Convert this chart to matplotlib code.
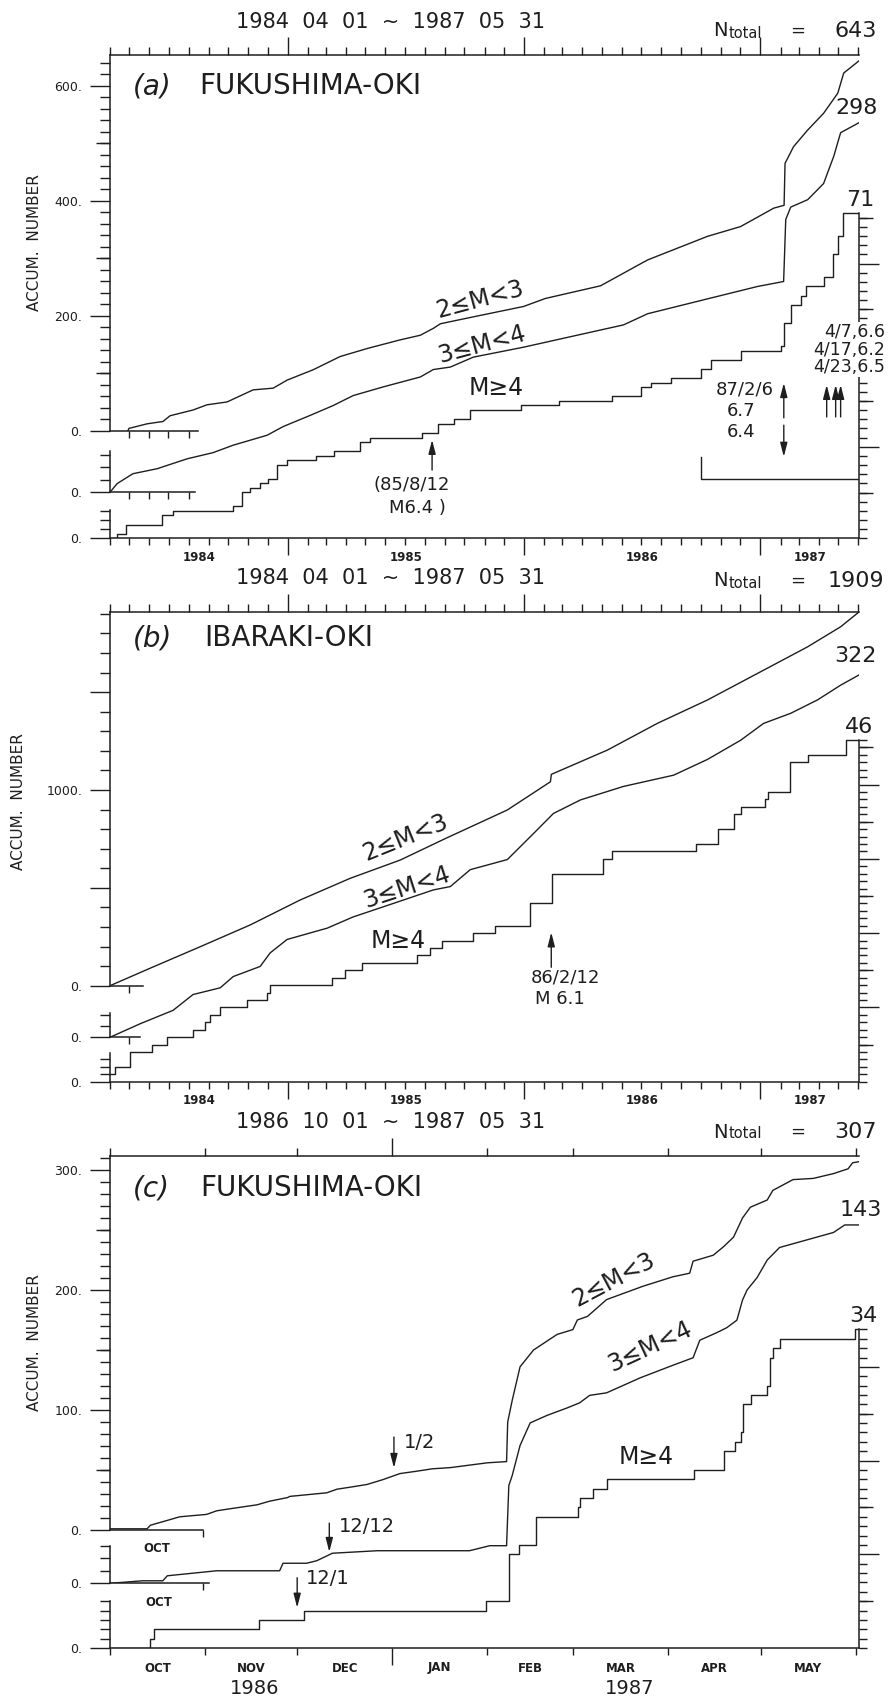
import numpy as np
import matplotlib
matplotlib.use("Agg")
import matplotlib.pyplot as plt
from matplotlib.ticker import FixedLocator, FuncFormatter

plt.rcParams['font.family'] = ['DejaVu Sans']
W, H = 891, 1698
INK = '#1e1e1e'

# ---------------- data (x in decimal years, y = accumulated number) ----------------
# (a) FUKUSHIMA-OKI 1984-04-01 ~ 1987-05-31
A_ALL_X = [1984.326, 1984.33, 1984.407, 1984.474, 1984.504, 1984.601, 1984.660, 1984.745, 1984.855, 1984.940,
           1984.999, 1985.109, 1985.223, 1985.338, 1985.477, 1985.562, 1985.617, 1985.647, 1985.786, 1985.998,
           1986.091, 1986.324, 1986.523, 1986.776, 1986.916, 1987.056, 1987.100, 1987.104, 1987.140, 1987.200,
           1987.267, 1987.327, 1987.352, 1987.416]
A_ALL_Y = [0, 4, 12, 16, 26, 36, 45, 50, 71, 74, 88, 106, 129, 143, 158, 166, 178, 186, 198, 216,
           230, 252, 297, 338, 355, 387, 392, 465, 494, 523, 552, 587, 622, 643]
A_M3_X = [1984.25, 1984.280, 1984.347, 1984.449, 1984.576, 1984.686, 1984.771, 1984.914, 1984.982, 1985.096,
          1985.194, 1985.278, 1985.405, 1985.562, 1985.617, 1985.689, 1985.786, 1985.998, 1986.209, 1986.421,
          1986.523, 1986.776, 1986.988, 1987.098, 1987.107, 1987.128, 1987.200, 1987.267, 1987.310, 1987.339,
          1987.416]
A_M3_Y = [0, 7, 15, 19, 27, 32, 38, 46, 53, 62, 70, 78, 85, 93, 99, 101, 109, 117, 126, 135,
          144, 156, 166, 170, 220, 230, 236, 249, 271, 290, 298]
A_M4_X = [1984.25, 1984.280, 1984.318, 1984.470, 1984.517, 1984.771, 1984.809, 1984.842, 1984.885, 1984.919,
          1984.957, 1984.999, 1985.118, 1985.194, 1985.308, 1985.350, 1985.570, 1985.634, 1985.702, 1985.773,
          1985.985, 1986.146, 1986.374, 1986.493, 1986.535, 1986.620, 1986.747, 1986.789, 1986.916, 1987.085,
          1987.098, 1987.128, 1987.170, 1987.191, 1987.267, 1987.305, 1987.327, 1987.348, 1987.416]
A_M4_Y = [0, 1, 3, 5, 6, 7, 10, 11, 12, 13, 16, 17, 18, 19, 21, 22, 23, 25, 26, 28,
          29, 30, 31, 33, 34, 35, 37, 39, 41, 42, 47, 51, 53, 55, 57, 62, 66, 71, 71]
A_NTOTAL, A_N3, A_N4 = 643, 298, 71

# (b) IBARAKI-OKI 1984-04-01 ~ 1987-05-31
B_ALL_X = [1984.25, 1984.419, 1984.631, 1984.842, 1985.054, 1985.266, 1985.477, 1985.668, 1985.930, 1986.112,
           1986.116, 1986.353, 1986.565, 1986.776, 1986.988, 1987.200, 1987.339, 1987.416]
B_ALL_Y = [0, 89, 199, 310, 438, 549, 642, 752, 898, 1042, 1080, 1204, 1341, 1460, 1596, 1732, 1834, 1909]
B_M3_X = [1984.25, 1984.377, 1984.517, 1984.601, 1984.716, 1984.771, 1984.885, 1984.927, 1984.999, 1985.168,
          1985.278, 1985.448, 1985.617, 1985.689, 1985.773, 1985.930, 1986.040, 1986.125, 1986.239, 1986.421,
          1986.633, 1986.776, 1986.916, 1987.013, 1987.128, 1987.242, 1987.339, 1987.416]
B_M3_Y = [0, 12, 24, 38, 44, 54, 63, 75, 87, 97, 107, 119, 131, 134, 149, 158, 181, 199, 211, 223,
          233, 247, 264, 279, 288, 300, 313, 322]
B_M4_X = [1984.25, 1984.271, 1984.335, 1984.428, 1984.491, 1984.601, 1984.652, 1984.673, 1984.716, 1984.830,
          1984.914, 1984.927, 1985.189, 1985.244, 1985.316, 1985.549, 1985.604, 1985.655, 1985.782, 1985.879,
          1986.027, 1986.120, 1986.336, 1986.374, 1986.726, 1986.819, 1986.886, 1986.916, 1987.018, 1987.030,
          1987.123, 1987.200, 1987.361, 1987.416]
B_M4_Y = [1, 2, 4, 5, 6, 7, 8, 9, 10, 11, 12, 13, 14, 15, 16, 17, 18, 19, 20, 21,
          24, 28, 30, 31, 32, 34, 36, 37, 38, 39, 43, 44, 46, 46]
B_NTOTAL, B_N3, B_N4 = 1909, 322, 46

# (c) FUKUSHIMA-OKI 1986-10-01 ~ 1987-05-31
C_ALL_X = [1986.75, 1986.783, 1986.786, 1986.801, 1986.812, 1986.836, 1986.845, 1986.859, 1986.881, 1986.892,
           1986.908, 1986.910, 1986.943, 1986.952, 1986.966, 1986.979, 1986.993, 1987.008, 1987.023, 1987.037,
           1987.053, 1987.086, 1987.103, 1987.104, 1987.108, 1987.115, 1987.127, 1987.148, 1987.162, 1987.166,
           1987.175, 1987.192, 1987.224, 1987.251, 1987.266, 1987.269, 1987.287, 1987.296, 1987.305, 1987.313,
           1987.320, 1987.335, 1987.340, 1987.358, 1987.376, 1987.394, 1987.407, 1987.411, 1987.417]
C_ALL_Y = [1, 1, 4, 8, 11, 13, 16, 18, 21, 24, 27, 28, 31, 34, 36, 38, 42, 47, 49, 51,
           52, 56, 57, 90, 108, 136, 150, 163, 167, 175, 178, 192, 203, 211, 214, 224, 229, 236, 244, 260,
           269, 275, 283, 292, 293, 297, 301, 306, 307]
C_M3_X = [1986.75, 1986.779, 1986.797, 1986.801, 1986.845, 1986.901, 1986.904, 1986.925, 1986.934, 1986.948,
          1986.988, 1987.070, 1987.088, 1987.103, 1987.105, 1987.108, 1987.115, 1987.124, 1987.139, 1987.157,
          1987.168, 1987.177, 1987.192, 1987.222, 1987.251, 1987.269, 1987.275, 1987.290, 1987.299, 1987.308,
          1987.313, 1987.317, 1987.326, 1987.335, 1987.346, 1987.370, 1987.394, 1987.404, 1987.417]
C_M3_Y = [0, 1, 1, 3, 5, 5, 8, 8, 9, 12, 13, 13, 15, 15, 39, 43, 55, 64, 67, 70,
          72, 75, 76, 82, 87, 90, 97, 100, 102, 105, 113, 117, 122, 129, 134, 137, 140, 143, 143]
C_M4_X = [1986.75, 1986.784, 1986.787, 1986.881, 1986.921, 1987.084, 1987.104, 1987.113, 1987.128, 1987.166,
          1987.168, 1987.179, 1987.192, 1987.269, 1987.296, 1987.306, 1987.311, 1987.313, 1987.320, 1987.335,
          1987.337, 1987.340, 1987.346, 1987.413, 1987.417]
C_M4_Y = [0, 1, 2, 3, 4, 5, 10, 11, 14, 15, 16, 17, 18, 19, 21, 22, 23, 26, 27, 28,
          31, 32, 33, 34, 34]
C_NTOTAL, C_N3, C_N4 = 307, 143, 34

YEAR_LABELS = ['1984', '1985', '1986', '1987']
MONTH_LABELS = ['OCT', 'NOV', 'DEC', 'JAN', 'FEB', 'MAR', 'APR', 'MAY']
BRACKET_DATES = ['1986-10-01', '1987-05-31']
BRACKET_Y = [17.7, 12.9]


def dy(s):
    d = np.datetime64(s, 'D')
    y = int(s[:4])
    a = np.datetime64(f"{y:04d}-01-01", 'D')
    b = np.datetime64(f"{y + 1:04d}-01-01", 'D')
    return y + (d - a) / (b - a)


def months(y0, m0, y1, m1):
    out, y, m = [], y0, m0
    while (y, m) <= (y1, m1):
        out.append(dy(f"{y:04d}-{m:02d}-01"))
        m += 1
        if m > 12:
            m, y = 1, y + 1
    return out


fig = plt.figure(figsize=(W / 100, H / 100), dpi=100)
fig.patch.set_facecolor('white')
LINE = dict(color=INK, lw=1.0)


def box(l, t, r, b):
    return [l / W, 1 - b / H, (r - l) / W, (b - t) / H]


def T(x, y, s, size, ha='center', va='center', **kw):
    return fig.text(x / W, 1 - y / H, s, fontsize=size, ha=ha, va=va, color=INK, **kw)


def bare(ax):
    ax.patch.set_visible(False)
    for sp in ax.spines.values():
        sp.set_visible(False)
        sp.set_color(INK)
        sp.set_linewidth(1.1)
    ax.tick_params(which='both', colors=INK, width=1.0, direction='out')


def curve_axes(L, R, TOP, base, scale, xlim):
    ax = fig.add_axes(box(L, TOP, R, base))
    bare(ax)
    ax.set_xlim(*xlim)
    ax.set_ylim(0, (base - TOP) / scale)
    ax.set_xticks([])
    ax.tick_params(top=False, right=False, labelbottom=False)
    return ax


def left_scale(ax, top, major, minor, labeled=(0,), medium=()):
    sp = ax.spines['left']
    sp.set_visible(True)
    sp.set_bounds(0, top)
    ax.yaxis.set_major_locator(FixedLocator(list(major)))
    ax.yaxis.set_minor_locator(FixedLocator(list(minor)))
    lab = set(labeled)
    ax.yaxis.set_major_formatter(FuncFormatter(lambda v, p: f"{v:.0f}." if round(v) in lab else ""))
    ax.tick_params(axis='y', which='major', length=14.5, pad=5.5, labelsize=9)
    ax.tick_params(axis='y', which='minor', length=7)
    if medium:
        sec = ax.secondary_yaxis('left')
        sec.spines['left'].set_visible(False)
        sec.set_yticks(list(medium))
        sec.tick_params(axis='y', length=10, width=1.0, colors=INK, direction='out', labelleft=False)


def short_x(ax, x_end, ticks):
    sp = ax.spines['bottom']
    sp.set_visible(True)
    sp.set_bounds(ax.get_xlim()[0], x_end)
    ax.set_xticks(ticks)
    ax.tick_params(axis='x', which='major', length=5, labelbottom=False)


def full_x(ax, majors, minors):
    ax.spines['bottom'].set_visible(True)
    ax.set_xticks(majors)
    ax.set_xticks(minors, minor=True)
    ax.tick_params(axis='x', which='major', length=12.5, labelbottom=False)
    ax.tick_params(axis='x', which='minor', length=5, labelbottom=False)


def right_scale(ax, top, major, minor, medium):
    axr = ax.twinx()
    bare(axr)
    axr.set_ylim(ax.get_ylim())
    sp = axr.spines['right']
    sp.set_visible(True)
    sp.set_bounds(0, top)
    axr.yaxis.set_major_locator(FixedLocator(list(major)))
    axr.yaxis.set_minor_locator(FixedLocator(list(minor)))
    axr.tick_params(axis='y', which='major', length=14.5, labelright=False, left=False, right=True)
    axr.tick_params(axis='y', which='minor', length=5.5, left=False, right=True)
    sec = axr.secondary_yaxis('right')
    sec.spines['right'].set_visible(False)
    sec.set_yticks(list(medium))
    sec.tick_params(axis='y', length=10, width=1.0, colors=INK, direction='out', labelright=False)


def top_frame(L, R, TOP, BOT, xlim, majors, minors):
    ax = fig.add_axes(box(L, TOP, R, BOT))
    bare(ax)
    ax.set_xlim(*xlim)
    ax.set_yticks([])
    ax.spines['top'].set_visible(True)
    ax.xaxis.tick_top()
    ax.set_xticks(majors)
    ax.set_xticks(minors, minor=True)
    ax.tick_params(axis='x', which='major', length=13, labeltop=False, bottom=False)
    ax.tick_params(axis='x', which='minor', length=6, labeltop=False, bottom=False)
    return ax


def arrow(ax, x, y_from, y_to):
    ax.annotate('', xy=(x, y_to), xytext=(x, y_from),
                arrowprops=dict(arrowstyle='-|>,head_length=0.7,head_width=0.18', color=INK, lw=1.0,
                                shrinkA=0, shrinkB=0, mutation_scale=12))


def under_labels(ax, centers, labels, off_px, size, **kw):
    for c, s in zip(centers, labels):
        ax.annotate(s, xy=(c, 0), xycoords=('data', 'axes fraction'), xytext=(0, -off_px * 0.72),
                    textcoords='offset points', ha='center', va='center', fontsize=size, color=INK, **kw)


def ntotal(y, n):
    T(713, y, 'N', 14, ha='left')
    T(729, y + 2, 'total', 10.5, ha='left')
    T(798, y, '=', 13)
    T(856, y, str(n), 16)


L, R = 110, 859
XAB = (1984.25, 1987.4167)
XC = (1986.75, 1987.4167)
MAB = months(1984, 4, 1987, 6)
MC = months(1986, 10, 1987, 6)
YRS = [1985.0, 1986.0, 1987.0]
YR_CENTERS = [(XAB[0] + 1985) / 2, 1985.5, 1986.5, (1987 + XAB[1]) / 2]

# ================= panel (a) =================
TOP, B1, B2, B3 = 55, 430.7, 492.3, 538.3
top_frame(L, R, TOP, B3, XAB, YRS, MAB)
a1 = curve_axes(L, R, TOP, B1, 0.575, XAB)
a1.plot(A_ALL_X, A_ALL_Y, **LINE)
left_scale(a1, a1.get_ylim()[1], [0, 200, 400, 600], range(0, 641, 20), labeled=[0, 200, 400, 600],
           medium=[100, 300, 500])
short_x(a1, 1984.622, MAB[1:5])
a2 = curve_axes(L, R, TOP, B2, 1.24, XAB)
a2.plot(A_M3_X, A_M3_Y, **LINE)
left_scale(a2, 33, [0], [10, 20, 30])
short_x(a2, 1984.61, MAB[1:5])
a3 = curve_axes(L, R, TOP, B3, 4.58, XAB)
a3.plot(A_M4_X, A_M4_Y, drawstyle='steps-post', **LINE)
left_scale(a3, 6.2, [0], [2, 4, 6])
full_x(a3, YRS, MAB)
right_scale(a3, A_N4, [20, 40, 60], np.arange(0, 72, 2), [10, 30, 50, 70])
under_labels(a3, YR_CENTERS, YEAR_LABELS, 19, 8.5, fontweight='bold')
bx = [dy(d) for d in BRACKET_DATES]
a3.plot([bx[0], bx[0], bx[1]], [BRACKET_Y[0], BRACKET_Y[1], BRACKET_Y[1]], **LINE)
arrow(a3, dy('1985-08-12'), 14.9, 21.5)
arrow(a3, dy('1987-02-06'), 26.3, 33.9)
arrow(a3, dy('1987-02-06'), 24.7, 17.8)
for xa in [1987.280, 1987.318, 1987.339]:
    arrow(a3, xa, 26.5, 33.5)

T(391, 22, '1984  04  01  ~  1987  05  31', 15)
ntotal(31, A_NTOTAL)
T(133, 86, '(a)', 20, ha='left', style='italic')
T(199, 86, 'FUKUSHIMA-OKI', 20, ha='left')
T(35, 243, 'ACCUM.  NUMBER', 11, rotation=90)
T(480, 300, '2≤M<3', 17, rotation=15)
T(482, 345, '3≤M<4', 17, rotation=15)
T(496, 388, 'M≥4', 17)
T(857, 108, str(A_N3), 16)
T(860, 200, str(A_N4), 16)
T(412, 485, '(85/8/12', 13)
T(417, 508, 'M6.4 )', 13)
T(745, 390, '87/2/6', 13)
T(741, 411, '6.7', 13)
T(741, 432, '6.4', 13)
WB = dict(facecolor='white', edgecolor='none', pad=0.5)
T(885, 332, '4/7,6.6', 12.5, ha='right', bbox=WB, zorder=5)
T(885, 350, '4/17,6.2', 12.5, ha='right', bbox=WB, zorder=5)
T(885, 367, '4/23,6.5', 12.5, ha='right', bbox=WB, zorder=5)

# ================= panel (b) =================
TOP, B1, B2, B3 = 611.7, 985.7, 1037.3, 1081.7
top_frame(L, R, TOP, B3, XAB, YRS, MAB)
b1 = curve_axes(L, R, TOP, B1, 0.1957, XAB)
b1.plot(B_ALL_X, B_ALL_Y, **LINE)
left_scale(b1, b1.get_ylim()[1], [0, 500, 1000, 1500], range(0, 1901, 100), labeled=[0, 1000])
short_x(b1, 1984.39, MAB[1:2])
b2 = curve_axes(L, R, TOP, B2, 1.125, XAB)
b2.plot(B_M3_X, B_M3_Y, **LINE)
left_scale(b2, 21.5, [0], [10, 20])
short_x(b2, 1984.377, MAB[1:2])
b3 = curve_axes(L, R, TOP, B3, 7.43, XAB)
b3.plot(B_M4_X, B_M4_Y, drawstyle='steps-post', **LINE)
left_scale(b3, 3.8, [0], [1, 2, 3])
full_x(b3, YRS, MAB)
right_scale(b3, B_N4, [10, 20, 30, 40], range(0, 47), [5, 15, 25, 35, 45])
under_labels(b3, YR_CENTERS, YEAR_LABELS, 19, 8.5, fontweight='bold')
arrow(b3, dy('1986-02-12'), 15.4, 20.1)

T(391, 578, '1984  04  01  ~  1987  05  31', 15)
ntotal(581, B_NTOTAL)
T(133, 638, '(b)', 20, ha='left', style='italic')
T(204, 638, 'IBARAKI-OKI', 20, ha='left')
T(19, 802, 'ACCUM.  NUMBER', 11, rotation=90)
T(405, 838, '2≤M<3', 17, rotation=22)
T(407, 887, '3≤M<4', 17, rotation=18)
T(398, 941, 'M≥4', 17)
T(855, 656, str(B_N3), 16)
T(859, 727, str(B_N4), 16)
T(565, 977, '86/2/12', 13)
T(560, 999, 'M 6.1', 13)

# ================= panel (c) =================
TOP, B1, B2, B3 = 1156, 1530, 1583.3, 1648
top_frame(L, R, TOP, B3, XC, [1987.0], MC)
c1 = curve_axes(L, R, TOP, B1, 1.2, XC)
c1.plot(C_ALL_X, C_ALL_Y, **LINE)
left_scale(c1, c1.get_ylim()[1], [0, 100, 200, 300], range(0, 311, 10), labeled=[0, 100, 200, 300],
           medium=[50, 150, 250])
short_x(c1, MC[1], MC[1:2])
c2 = curve_axes(L, R, TOP, B2, 2.506, XC)
c2.plot(C_M3_X, C_M3_Y, **LINE)
left_scale(c2, 15, [0], [5, 10, 15])
short_x(c2, MC[1] + 0.005, MC[1:2])
c3 = curve_axes(L, R, TOP, B3, 9.37, XC)
c3.plot(C_M4_X, C_M4_Y, drawstyle='steps-post', **LINE)
left_scale(c3, 5, [0], [1, 2, 3, 4, 5])
full_x(c3, [1987.0], MC)
right_scale(c3, C_N4, [10, 20, 30], range(0, 35), [5, 15, 25])
under_labels(c3, [(a + b) / 2 for a, b in zip(MC[:-1], MC[1:])], MONTH_LABELS, 20, 8.5, fontweight='bold')
arrow(c1, dy('1987-01-02'), 77.5, 51.7)
arrow(c2, dy('1986-12-12'), 24.0, 12.5)
arrow(c3, dy('1986-12-01'), 7.5, 4.3)

T(391, 1122, '1986  10  01  ~  1987  05  31', 15)
ntotal(1132, C_NTOTAL)
T(133, 1188, '(c)', 20, ha='left', style='italic')
T(200, 1188, 'FUKUSHIMA-OKI', 20, ha='left')
T(35, 1343, 'ACCUM.  NUMBER', 11, rotation=90)
T(614, 1280, '2≤M<3', 17, rotation=28)
T(650, 1347, '3≤M<4', 17, rotation=25)
T(646, 1457, 'M≥4', 17)
T(861, 1210, str(C_N3), 16)
T(863, 1316, str(C_N4), 16)
T(404, 1442, '1/2', 14, ha='left')
T(339, 1526, '12/12', 14, ha='left')
T(306, 1579, '12/1', 14, ha='left')
T(157, 1549, 'OCT', 8.5, fontweight='bold')
T(159, 1603, 'OCT', 8.5, fontweight='bold')
T(255, 1688, '1986', 14)
T(630, 1688, '1987', 14)

fig.savefig('out.png', dpi=100, facecolor='white')
